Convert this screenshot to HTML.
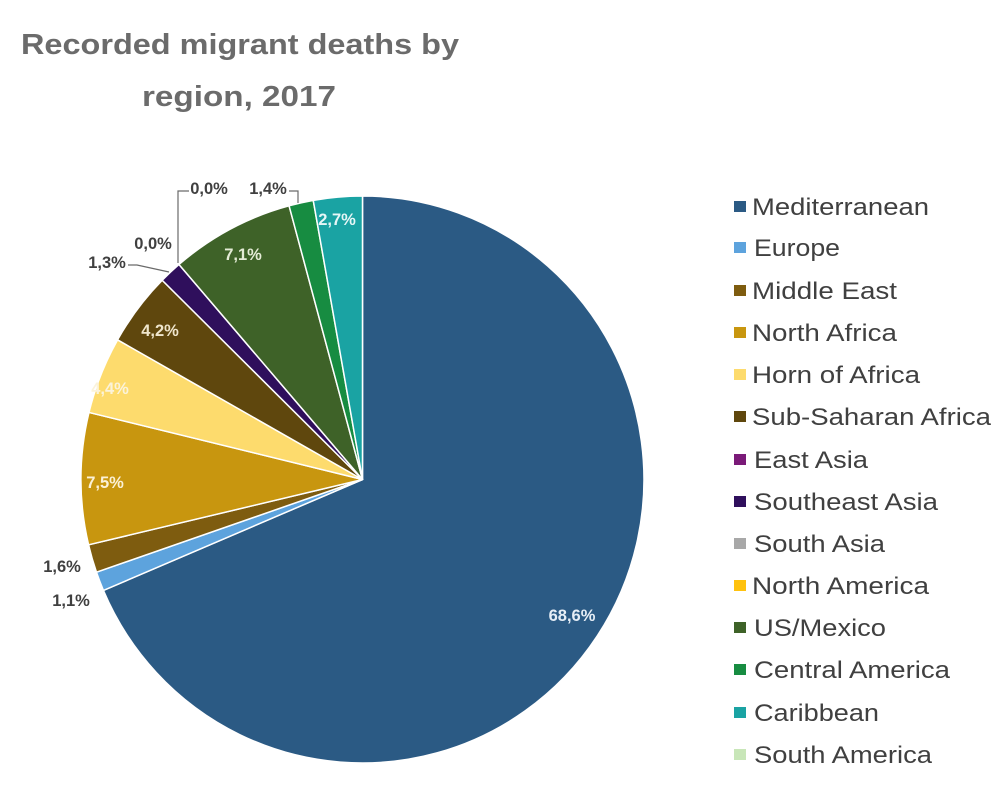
<!DOCTYPE html>
<html>
<head>
<meta charset="utf-8">
<style>
  html, body { margin: 0; padding: 0; background: #ffffff; }
  svg { display: block; }
  .t { font-family: "Liberation Sans", Arial, sans-serif; }
</style>
</head>
<body>
<svg width="1006" height="802" viewBox="0 0 1006 802" xmlns="http://www.w3.org/2000/svg">
  <rect width="1006" height="802" fill="#ffffff"/>

  <!-- Title -->
  <text class="t" x="21" y="54" font-size="29" font-weight="bold" fill="#6b6b6b" textLength="438" lengthAdjust="spacingAndGlyphs">Recorded migrant deaths by</text>
  <text class="t" x="142" y="106" font-size="29" font-weight="bold" fill="#6b6b6b" textLength="194" lengthAdjust="spacingAndGlyphs">region, 2017</text>

  <!-- Pie -->
  <g stroke="#ffffff" stroke-width="1.5" stroke-linejoin="round">
    <!-- Mediterranean -->
    <path d="M362.5,479.5 L362.5,196 A281.5,283.5 0 1 1 103.43,590.46 Z" fill="#2b5a84"/>
    <!-- Europe -->
    <path d="M362.5,479.5 L103.43,590.46 A281.5,283.5 0 0 1 96.45,572.18 Z" fill="#5da3dd"/>
    <!-- Middle East -->
    <path d="M362.5,479.5 L96.45,572.18 A281.5,283.5 0 0 1 88.57,544.82 Z" fill="#7e5c0f"/>
    <!-- North Africa -->
    <path d="M362.5,479.5 L88.57,544.82 A281.5,283.5 0 0 1 88.99,412.45 Z" fill="#c8960f"/>
    <!-- Horn of Africa -->
    <path d="M362.5,479.5 L88.99,412.45 A281.5,283.5 0 0 1 117.57,339.82 Z" fill="#fddb6d"/>
    <!-- Sub-Saharan Africa -->
    <path d="M362.5,479.5 L117.57,339.82 A281.5,283.5 0 0 1 162.21,280.28 Z" fill="#5f470d"/>
    <!-- Southeast Asia -->
    <path d="M362.5,479.5 L162.21,280.28 A281.5,283.5 0 0 1 178.99,264.49 Z" fill="#2f0f5c"/>
    <!-- US/Mexico -->
    <path d="M362.5,479.5 L178.99,264.49 A281.5,283.5 0 0 1 289.08,205.81 Z" fill="#3e6228"/>
    <!-- Central America -->
    <path d="M362.5,479.5 L289.08,205.81 A281.5,283.5 0 0 1 313.24,200.37 Z" fill="#178c41"/>
    <!-- Caribbean -->
    <path d="M362.5,479.5 L313.24,200.37 A281.5,283.5 0 0 1 362.5,196 Z" fill="#1aa3a3"/>
  </g>

  <!-- Leader lines -->
  <g fill="none" stroke="#6a6a6a" stroke-width="1.2">
    <polyline points="128,265 137,265 169,272"/>
    <polyline points="189,191 178,191 178,263"/>
    <polyline points="289,191 298,191 298,203"/>
  </g>

  <!-- Data labels -->
  <g class="t" font-size="16.5" font-weight="bold" text-anchor="middle">
    <text x="572" y="621" fill="#e6eef6">68,6%</text>
    <text x="105" y="488" fill="#fbf1d6">7,5%</text>
    <text x="110" y="394" fill="#fbf3da">4,4%</text>
    <text x="160" y="336" fill="#efe6cc">4,2%</text>
    <text x="243" y="260" fill="#e4ecd6">7,1%</text>
    <text x="337" y="225" fill="#e6f6f6">2,7%</text>
    <text x="107" y="268" fill="#404040">1,3%</text>
    <text x="153" y="249" fill="#404040">0,0%</text>
    <text x="209" y="194" fill="#404040">0,0%</text>
    <text x="268" y="194" fill="#404040">1,4%</text>
    <text x="62" y="572" fill="#404040">1,6%</text>
    <text x="71" y="606" fill="#404040">1,1%</text>
  </g>

  <!-- Legend -->
  <g>
    <rect x="734" y="201" width="12" height="11" fill="#2b5a84"/>
    <rect x="734" y="242" width="12" height="11" fill="#5da3dd"/>
    <rect x="734" y="285" width="12" height="11" fill="#7e5c0f"/>
    <rect x="734" y="327" width="12" height="11" fill="#c8960f"/>
    <rect x="734" y="369" width="12" height="11" fill="#fddb6d"/>
    <rect x="734" y="411" width="12" height="11" fill="#5f470d"/>
    <rect x="734" y="454" width="12" height="11" fill="#7a1a78"/>
    <rect x="734" y="496" width="12" height="11" fill="#2f0f5c"/>
    <rect x="734" y="538" width="12" height="11" fill="#a8a8a8"/>
    <rect x="734" y="580" width="12" height="11" fill="#ffc20e"/>
    <rect x="734" y="622" width="12" height="11" fill="#3e6228"/>
    <rect x="734" y="664" width="12" height="11" fill="#178c41"/>
    <rect x="734" y="707" width="12" height="11" fill="#1aa3a3"/>
    <rect x="734" y="749" width="12" height="11" fill="#c8e6b8"/>
  </g>
  <g class="t" font-size="24" fill="#404040">
    <text x="752" y="215" textLength="177" lengthAdjust="spacingAndGlyphs">Mediterranean</text>
    <text x="754" y="256" textLength="86" lengthAdjust="spacingAndGlyphs">Europe</text>
    <text x="752" y="299" textLength="145" lengthAdjust="spacingAndGlyphs">Middle East</text>
    <text x="752" y="341" textLength="145" lengthAdjust="spacingAndGlyphs">North Africa</text>
    <text x="752" y="383" textLength="168" lengthAdjust="spacingAndGlyphs">Horn of Africa</text>
    <text x="752" y="425" textLength="239" lengthAdjust="spacingAndGlyphs">Sub-Saharan Africa</text>
    <text x="754" y="468" textLength="114" lengthAdjust="spacingAndGlyphs">East Asia</text>
    <text x="754" y="510" textLength="184" lengthAdjust="spacingAndGlyphs">Southeast Asia</text>
    <text x="754" y="552" textLength="131" lengthAdjust="spacingAndGlyphs">South Asia</text>
    <text x="752" y="594" textLength="177" lengthAdjust="spacingAndGlyphs">North America</text>
    <text x="754" y="636" textLength="132" lengthAdjust="spacingAndGlyphs">US/Mexico</text>
    <text x="754" y="678" textLength="196" lengthAdjust="spacingAndGlyphs">Central America</text>
    <text x="754" y="721" textLength="125" lengthAdjust="spacingAndGlyphs">Caribbean</text>
    <text x="754" y="763" textLength="178" lengthAdjust="spacingAndGlyphs">South America</text>
  </g>
</svg>
</body>
</html>
